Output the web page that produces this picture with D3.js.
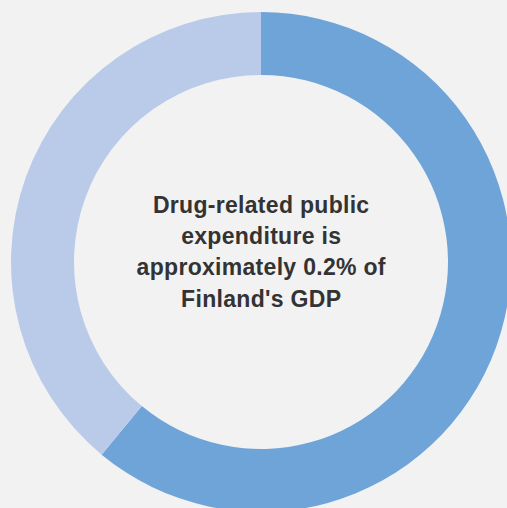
<!DOCTYPE html>
<html>
<head>
<meta charset="utf-8">
<script src="https://cdn.jsdelivr.net/npm/d3@7"></script>
<style>
  html, body { margin: 0; padding: 0; background: #f2f2f2; }
  svg { display: block; }
</style>
</head>
<body>
<svg id="chart" width="507" height="508"></svg>
<script>
// Share of the two donut segments (percent)
const segments = ["Drug-related expenditure", "Other"];
const shares = [61, 39];
const segmentColors = ["#6fa4d9", "#bacbea"];

// Centre caption, one entry per line
const captionLines = [
  "Drug-related public",
  "expenditure is",
  "approximately 0.2% of",
  "Finland's GDP"
];

const width = 507, height = 508;
const cx = 261, cy = 262;
const outerR = 250, innerR = 187;

const svg = d3.select("#chart");
svg.append("rect").attr("width", width).attr("height", height).attr("fill", "#f2f2f2");

const pie = d3.pie().sort(null).value(d => d)(shares);
const arc = d3.arc().innerRadius(innerR).outerRadius(outerR);
const color = d3.scaleOrdinal().domain(segments).range(segmentColors);

const g = svg.append("g").attr("transform", `translate(${cx},${cy})`);
g.selectAll("path")
  .data(pie)
  .join("path")
  .attr("d", arc)
  .attr("fill", (d, i) => color(segments[i]));

const lineH = 31.2;
const firstBaseline = 213;
svg.append("g")
  .selectAll("text")
  .data(captionLines)
  .join("text")
  .attr("x", cx + 0.2)
  .attr("y", (d, i) => firstBaseline + i * lineH)
  .attr("text-anchor", "middle")
  .attr("font-family", "'Liberation Sans', Arial, Helvetica, sans-serif")
  .attr("font-weight", "bold")
  .attr("font-size", 23)
  .attr("letter-spacing", "0.3px")
  .attr("fill", "#333333")
  .text(d => d);
</script>
</body>
</html>
